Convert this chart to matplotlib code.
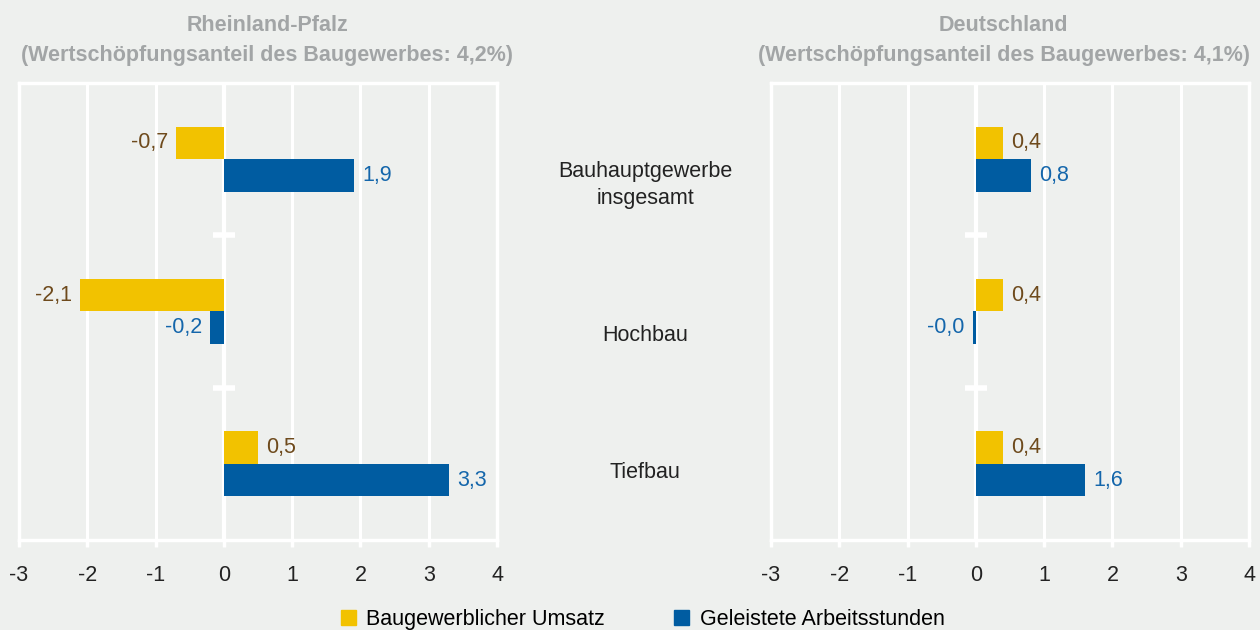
import numpy as np
import matplotlib
matplotlib.use("Agg")
import matplotlib.pyplot as plt
from matplotlib.patches import Patch

plt.rcParams["font.family"] = ["Liberation Sans", "DejaVu Sans"]

# ── Data ─────────────────────────────────────────────────────────────────────
categories = ["Bauhauptgewerbe\ninsgesamt", "Hochbau", "Tiefbau"]
series_names = ["Baugewerblicher Umsatz", "Geleistete Arbeitsstunden"]

rp_umsatz = [-0.7, -2.1, 0.5]
rp_stunden = [1.9, -0.2, 3.3]
de_umsatz = [0.4, 0.4, 0.4]
de_stunden = [0.8, -0.04, 1.6]

titles = ["Rheinland-Pfalz\n(Wertschöpfungsanteil des Baugewerbes: 4,2%)",
          "Deutschland\n(Wertschöpfungsanteil des Baugewerbes: 4,1%)"]
x_ticks = [-3, -2, -1, 0, 1, 2, 3, 4]

# ── Style ────────────────────────────────────────────────────────────────────
BG = "#eef0ee"
C_YELLOW = "#f2c200"
C_BLUE = "#005ca1"
C_YELLOW_TXT = "#6e4a1c"
C_BLUE_TXT = "#1466ab"
C_TITLE = "#a2a5a6"
C_TEXT = "#222222"
FS = 15.5

fig = plt.figure(figsize=(12.6, 6.3), dpi=100, facecolor=BG)
ax_l = fig.add_axes([0.0151, 0.1429, 0.3794, 0.7254])
ax_r = fig.add_axes([0.6119, 0.1429, 0.3794, 0.7254])


def fmt(v):
    return f"{v:.1f}".replace(".", ",")


def draw_panel(ax, umsatz, stunden, title, title_x):
    ax.set_facecolor(BG)
    y = np.arange(len(categories))
    h = 0.214
    ax.barh(y - h / 2, umsatz, h, color=C_YELLOW, zorder=3)
    ax.barh(y + h / 2, stunden, h, color=C_BLUE, zorder=3)

    for vals, off, col in [(umsatz, -h / 2, C_YELLOW_TXT), (stunden, h / 2, C_BLUE_TXT)]:
        for yi, v in zip(y, vals):
            ax.annotate(fmt(v), (v, yi + off), xytext=(6 if v >= 0 else -6, 0),
                        textcoords="offset points", va="center",
                        ha="left" if v >= 0 else "right",
                        fontsize=FS, color=col, zorder=4)

    ax.set_xlim(-3, 4)
    ax.set_ylim(2.5, -0.5)
    ax.set_xticks(x_ticks)
    ax.set_xticklabels([str(t) for t in x_ticks], fontsize=FS, color=C_TEXT)
    ax.set_yticks([])
    ax.grid(axis="x", color="white", lw=2.2, zorder=1)
    ax.axvline(0, color="white", lw=3, zorder=2)
    # small separators on the zero line between categories
    ax.plot([0] * (len(categories) - 1), np.arange(len(categories) - 1) + 0.5,
            marker="_", ms=16, mew=4, color="white", ls="none", zorder=2)
    for s in ax.spines.values():
        s.set_color("white")
        s.set_linewidth(2.5)
    ax.tick_params(axis="x", direction="out", length=5, width=2.5,
                   color="white", pad=13)
    ax.set_title(title, fontsize=FS, fontweight="bold", color=C_TITLE,
                 pad=15.5, linespacing=1.6, x=title_x)


draw_panel(ax_l, rp_umsatz, rp_stunden, titles[0], 0.519)
draw_panel(ax_r, de_umsatz, de_stunden, titles[1], 0.487)

# category labels in the gap between the panels
label_offsets = [0.17, 0.155, 0.055]
for i, (cat, off) in enumerate(zip(categories, label_offsets)):
    fig.text(0.512, 0.8683 - (i + 0.5 + off) / 3 * 0.7254, cat,
             ha="center", va="center", fontsize=FS, color=C_TEXT,
             linespacing=1.4)

handles = [Patch(color=C_YELLOW), Patch(color=C_BLUE)]
fig.legend(handles, series_names, loc="lower center", ncol=2,
           bbox_to_anchor=(0.51, -0.031), frameon=False, fontsize=FS,
           handlelength=0.7, handleheight=0.7, handletextpad=0.5,
           columnspacing=3.2)

fig.savefig("out.png", dpi=100, facecolor=BG)
